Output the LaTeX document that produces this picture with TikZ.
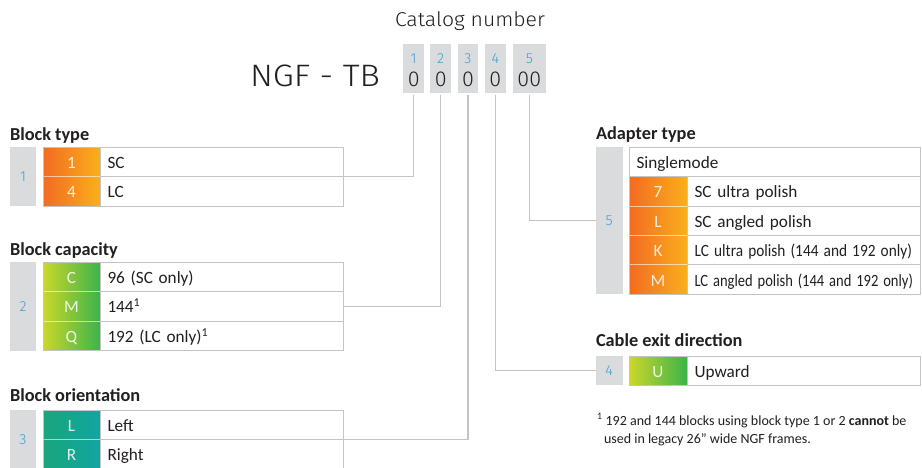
\documentclass[tikz,border=0pt]{standalone}
\usepackage{fontspec}
\usepackage{graphicx}
\setmainfont{Carlito}
\newfontfamily\lightfont{Fira Sans Light}
\definecolor{boxgray}{HTML}{DADBDC}
\definecolor{numblue}{HTML}{3D9FD3}
\definecolor{linegray}{HTML}{C4C4C4}
\definecolor{orL}{HTML}{F26B22}
\definecolor{orR}{HTML}{FAAF1C}
\definecolor{grL}{HTML}{CBD72A}
\definecolor{grR}{HTML}{3CB34A}
\definecolor{tlL}{HTML}{1AA57A}
\definecolor{tlR}{HTML}{12A5A2}
\definecolor{ink}{HTML}{231F20}
\begin{document}
\begin{tikzpicture}[x=1pt, y=-1pt,
  every node/.style={inner sep=0pt, outer sep=0pt, text=ink},
  hbox/.style={fill=boxgray, minimum height=49pt},
  hnum/.style={anchor=base, text=numblue, font=\lightfont\fontsize{14.5}{14.5}\selectfont},
  hzero/.style={anchor=base, font=\lightfont\fontsize{21.5}{21.5}\selectfont},
  gbox/.style={fill=boxgray, anchor=north west, minimum width=26pt, text=numblue, font=\lightfont\fontsize{14.5}{14.5}\selectfont},
  code/.style={anchor=north west, minimum width=57pt, minimum height=29.4pt, text=white, text opacity=.85, text height=13pt, text depth=0pt, font=\fontsize{17.2}{17.2}\selectfont},
  org/.style={left color=orL, right color=orR},
  grn/.style={left color=grL, right color=grR},
  tlc/.style={left color=tlL, right color=tlR},
  desc/.style={anchor=north west, draw=linegray, line width=1pt, inner xsep=7.5pt, minimum height=29.4pt, text width=#1, align=left, text height=13pt, text depth=0pt, font=\fontsize{17.2}{17.2}\selectfont},
  title/.style={anchor=base west, font=\bfseries\fontsize{18.3}{18.3}\selectfont},
  conn/.style={draw=linegray, line width=1.2pt, shorten <=2pt},
  frame/.style={draw=linegray, line width=1pt},
  sep/.style={draw=white, draw opacity=.6, line width=1pt},
  foot/.style={anchor=base west, font=\fontsize{14}{14}\selectfont}
]
\useasboundingbox (0,0) rectangle (922,467);
\fill[white] (0,0) rectangle (922,467);

% header
\node[anchor=base, font=\lightfont\fontsize{20}{20}\selectfont] (cat) at (470,26.7) {\resizebox{150pt}{\height}{Catalog number}};
\node[anchor=base west, font=\lightfont\fontsize{31}{31}\selectfont] (ngf) at (250,86) {\resizebox{130pt}{\height}{NGF - TB}};
\node[hbox, minimum width=20.7pt] (h1) at (413.7,68.5) {};
\node[hbox, minimum width=20.7pt] (h2) at (440.7,68.5) {};
\node[hbox, minimum width=20.7pt] (h3) at (468,68.5) {};
\node[hbox, minimum width=20.7pt] (h4) at (495.4,68.5) {};
\node[hbox, minimum width=33.5pt] (h5) at (529.3,68.5) {};
\node[hnum] (n1) at (413.7,63.3) {1};
\node[hnum] (n2) at (440.7,63.3) {2};
\node[hnum] (n3) at (468,63.3) {3};
\node[hnum] (n4) at (495.4,63.3) {4};
\node[hnum] (n5) at (529.3,63.3) {5};
\node[hzero] (z1) at (413.7,86.7) {0};
\node[hzero] (z2) at (440.7,86.7) {0};
\node[hzero] (z3) at (468,86.7) {0};
\node[hzero] (z4) at (495.4,86.7) {0};
\node[hzero] (z5) at (529.3,86.7) {00};

% Block type
\node[title] (t1) at (10,140) {Block type};
\node[gbox, minimum height=58.8pt] (g1) at (10,147.3) {1};
\node[code, org] (c1a) at (43,147.3) {1};
\node[code, org] (c1b) at (43,176.7) {4};
\draw[sep] (c1a.south west) -- (c1a.south east);
\node[desc=228pt] (d1a) at (100,147.3) {SC};
\node[desc=228pt] (d1b) at (100,176.7) {LC};
\draw[frame] (c1a.north west) rectangle (d1b.south east);

% Block capacity
\node[title] (t2) at (10,255) {Block capacity};
\node[gbox, minimum height=88.2pt] (g2) at (10,262.3) {2};
\node[code, grn] (c2a) at (43,262.3) {C};
\node[code, grn] (c2b) at (43,291.7) {M};
\node[code, grn] (c2c) at (43,321.1) {Q};
\draw[sep] (c2a.south west) -- (c2a.south east);
\draw[sep] (c2b.south west) -- (c2b.south east);
\node[desc=228pt] (d2a) at (100,262.3) {96 (SC only)};
\node[desc=228pt] (d2b) at (100,291.7) {144\textsuperscript{1}};
\node[desc=228pt] (d2c) at (100,321.1) {192 (LC only)\textsuperscript{1}};
\draw[frame] (c2a.north west) rectangle (d2c.south east);

% Block orientation
\node[title] (t3) at (10,401.7) {Block orientation};
\node[gbox, minimum height=58.8pt] (g3) at (10,410) {3};
\node[code, tlc] (c3a) at (43,410) {L};
\node[code, tlc] (c3b) at (43,439.4) {R};
\draw[sep] (c3a.south west) -- (c3a.south east);
\node[desc=228pt] (d3a) at (100,410) {Left};
\node[desc=228pt] (d3b) at (100,439.4) {Right};
\draw[frame] (c3a.north west) rectangle (d3b.south east);

% Adapter type
\node[title] (t5) at (596,139) {Adapter type};
\node[gbox, minimum width=26.5pt, minimum height=147pt] (g5) at (596,147.3) {5};
\node[code, org, minimum width=58pt] (c5a) at (629,176.7) {7};
\node[code, org, minimum width=58pt] (c5b) at (629,206.1) {L};
\node[code, org, minimum width=58pt] (c5c) at (629,235.5) {K};
\node[code, org, minimum width=58pt] (c5d) at (629,264.9) {M};
\draw[sep] (c5a.south west) -- (c5a.south east);
\draw[sep] (c5b.south west) -- (c5b.south east);
\draw[sep] (c5c.south west) -- (c5c.south east);
\node[desc=276pt] (d5s) at (629,147.3) {Singlemode};
\node[desc=218pt] (d5a) at (687,176.7) {SC ultra polish};
\node[desc=218pt] (d5b) at (687,206.1) {SC angled polish};
\node[desc=218pt] (d5c) at (687,235.5) {\resizebox{217.5pt}{\height}{LC ultra polish (144 and 192 only)}};
\node[desc=218pt] (d5d) at (687,264.9) {\resizebox{218.5pt}{\height}{LC angled polish (144 and 192 only)}};
\draw[frame] (d5s.north west) rectangle (d5d.south east);

% Cable exit direction
\node[title] (t4) at (596,346.7) {Cable exit direction};
\node[gbox, minimum width=26.5pt, minimum height=29.4pt] (g4) at (596,356) {4};
\node[code, grn, minimum width=58pt] (c4a) at (629,356) {U};
\node[desc=218pt] (d4a) at (687,356) {Upward};
\draw[frame] (c4a.north west) rectangle (d4a.south east);

% footnote
\node[foot] (fn1) at (597,425) {\textsuperscript{1} 192 and 144 blocks using block type 1 or 2 \textbf{cannot} be};
\node[foot] (fn2) at (604,443.3) {used in legacy 26” wide NGF frames.};

% connectors
\draw[conn] (h1.south) |- (d1a.south east);
\draw[conn] (h2.south) |- (d2b.east);
\draw[conn] (h3.south) |- (d3a.south east);
\draw[conn] (h4.south) |- (g4.west);
\draw[conn] (h5.south) |- (g5.west);
\end{tikzpicture}
\end{document}
